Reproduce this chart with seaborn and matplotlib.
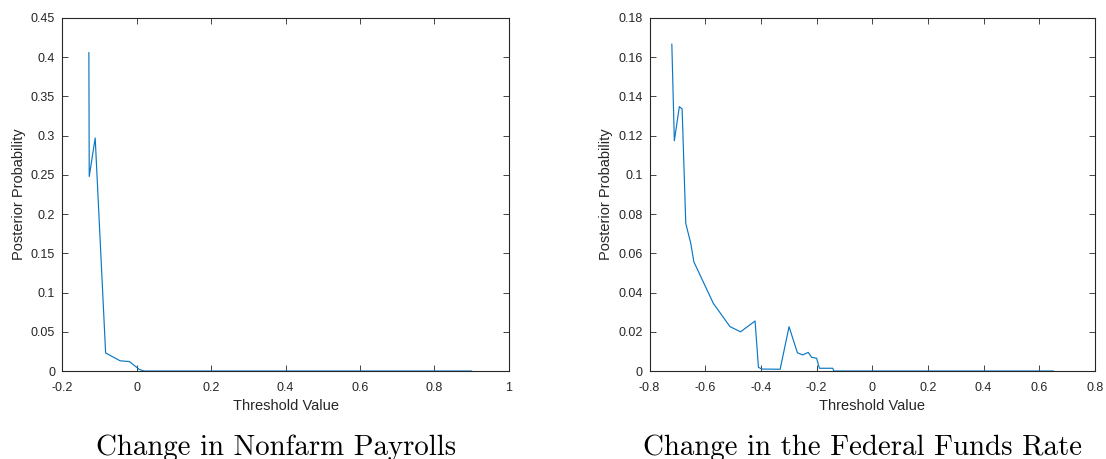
import matplotlib
matplotlib.use("Agg")
import matplotlib.pyplot as plt
import seaborn as sns
import pandas as pd

# Left panel: Change in Nonfarm Payrolls
npay_x = [-0.128, -0.127, -0.111, -0.083, -0.044, -0.019, 0.0075, 0.02, 0.9]
npay_y = [0.406, 0.248, 0.297, 0.023, 0.013, 0.012, 0.002, 0.0, 0.0]

# Right panel: Change in the Federal Funds Rate
ffr_x = [-0.720, -0.711, -0.693, -0.683, -0.670, -0.652, -0.641, -0.571, -0.511,
         -0.473, -0.421, -0.409, -0.397, -0.331, -0.299, -0.269, -0.250, -0.230,
         -0.218, -0.200, -0.190, -0.142, -0.138, 0.651]
ffr_y = [0.1667, 0.1174, 0.1348, 0.1336, 0.0753, 0.0651, 0.0557, 0.0345, 0.0226,
         0.0200, 0.0255, 0.0019, 0.0010, 0.0009, 0.0226, 0.0093, 0.0082, 0.0095,
         0.0070, 0.0065, 0.0014, 0.0014, 0.0, 0.0]

titles = ["Change in Nonfarm Payrolls", "Change in the Federal Funds Rate"]
xlabel = "Threshold Value"
ylabel = "Posterior Probability"

sns.set_style("white")
plt.rcParams["font.family"] = ["Liberation Sans", "DejaVu Sans"]

line_color = "#0A78C4"
axis_color = "#262626"

fig = plt.figure(figsize=(11.06, 4.59), dpi=100)
ax1 = fig.add_axes([0.0561, 0.1917, 0.4041, 0.7691])
ax2 = fig.add_axes([0.5873, 0.1917, 0.4028, 0.7691])

df1 = pd.DataFrame({"x": npay_x, "y": npay_y})
df2 = pd.DataFrame({"x": ffr_x, "y": ffr_y})

sns.lineplot(data=df1, x="x", y="y", ax=ax1, color=line_color, linewidth=0.85,
             sort=False, estimator=None)
sns.lineplot(data=df2, x="x", y="y", ax=ax2, color=line_color, linewidth=0.85,
             sort=False, estimator=None)

ax1.set_xlim(-0.2, 1.0)
ax1.set_ylim(0, 0.45)
ax1.set_xticks([-0.2, 0, 0.2, 0.4, 0.6, 0.8, 1.0])
ax1.set_xticklabels(["-0.2", "0", "0.2", "0.4", "0.6", "0.8", "1"])
ax1.set_yticks([0, 0.05, 0.1, 0.15, 0.2, 0.25, 0.3, 0.35, 0.4, 0.45])
ax1.set_yticklabels(["0", "0.05", "0.1", "0.15", "0.2", "0.25", "0.3", "0.35", "0.4", "0.45"])

ax2.set_xlim(-0.8, 0.8)
ax2.set_ylim(0, 0.18)
ax2.set_xticks([-0.8, -0.6, -0.4, -0.2, 0, 0.2, 0.4, 0.6, 0.8])
ax2.set_xticklabels(["-0.8", "-0.6", "-0.4", "-0.2", "0", "0.2", "0.4", "0.6", "0.8"])
ax2.set_yticks([0, 0.02, 0.04, 0.06, 0.08, 0.1, 0.12, 0.14, 0.16, 0.18])
ax2.set_yticklabels(["0", "0.02", "0.04", "0.06", "0.08", "0.1", "0.12", "0.14", "0.16", "0.18"])

for ax, title in zip([ax1, ax2], titles):
    for s in ax.spines.values():
        s.set_visible(True)
        s.set_color(axis_color)
        s.set_linewidth(0.8)
    ax.tick_params(direction="in", length=4, width=0.6, color=axis_color,
                   labelsize=9, labelcolor=axis_color,
                   top=True, right=True, bottom=True, left=True)
    ax.tick_params(axis="x", pad=8)
    ax.tick_params(axis="y", pad=5)
    ax.set_xlabel(xlabel, fontsize=10.5, color=axis_color, labelpad=3.5)
    ax.set_ylabel(ylabel, fontsize=10.5, color=axis_color, labelpad=3.5)
    ax.grid(False)

# captions below the panels
caption_centers_px = [276.5, 862.5]
for cx, title in zip(caption_centers_px, titles):
    fig.text(cx / 1106, 4.0 / 459, title, ha="center",
             va="baseline", fontsize=20.8, family="cmr10", color="black")

fig.savefig("out.png", dpi=100)
